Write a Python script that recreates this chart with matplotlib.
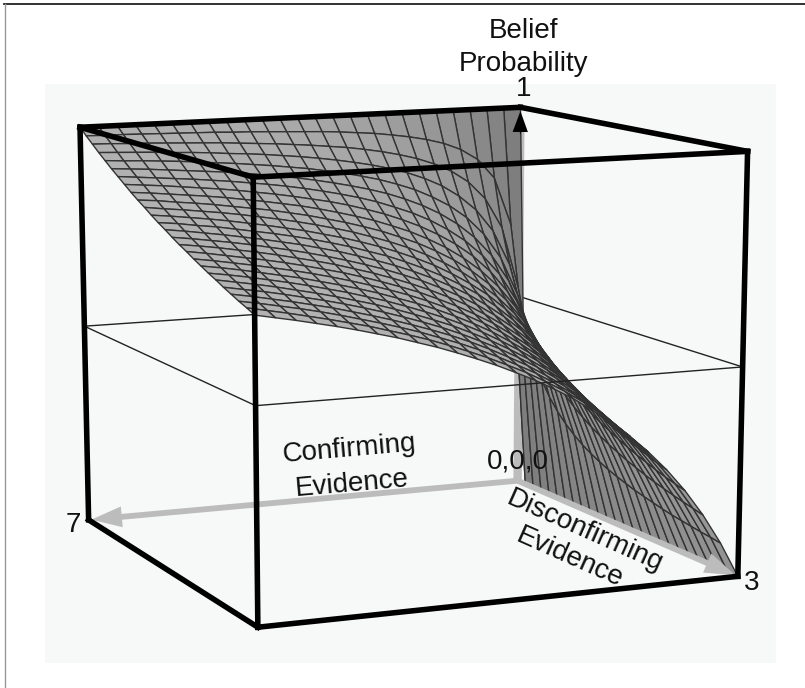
import numpy as np
import matplotlib
matplotlib.use("Agg")
import matplotlib.pyplot as plt
from matplotlib.collections import PolyCollection
from matplotlib.patches import FancyArrowPatch, Rectangle

plt.rcParams["font.family"] = ["Liberation Sans", "DejaVu Sans"]

# evidence grid, 25 steps on each axis
confirming = [0, 0.28, 0.56, 0.84, 1.12, 1.4, 1.68, 1.96, 2.24, 2.52, 2.8, 3.08, 3.36,
              3.64, 3.92, 4.2, 4.48, 4.76, 5.04, 5.32, 5.6, 5.88, 6.16, 6.44, 6.72, 7]
disconfirming = [0, 0.12, 0.24, 0.36, 0.48, 0.6, 0.72, 0.84, 0.96, 1.08, 1.2, 1.32, 1.44,
                 1.56, 1.68, 1.8, 1.92, 2.04, 2.16, 2.28, 2.4, 2.52, 2.64, 2.76, 2.88, 3]

# belief probability, one row per disconfirming step
belief = [
    [1, 1, 1, 1, 1, 1, 1, 1, 1, 1, 1, 1, 1, 1, 1, 1, 1, 1, 1, 1, 1, 1, 1, 1, 1, 1],
    [0, .700, .824, .875, .903, .921, .933, .942, .949, .955, .959, .963, .966, .968, .970, .972, .974, .975, .977, .978, .979, .980, .981, .982, .982, .983],
    [0, .538, .700, .778, .824, .854, .875, .891, .903, .913, .921, .928, .933, .938, .942, .946, .949, .952, .955, .957, .959, .961, .963, .964, .966, .967],
    [0, .438, .609, .700, .757, .795, .824, .845, .862, .875, .886, .895, .903, .910, .916, .921, .926, .930, .933, .937, .940, .942, .945, .947, .949, .951],
    [0, .368, .538, .636, .700, .745, .778, .803, .824, .840, .854, .865, .875, .883, .891, .897, .903, .908, .913, .917, .921, .925, .928, .931, .933, .936],
    [0, .318, .483, .583, .651, .700, .737, .766, .789, .808, .824, .837, .848, .858, .867, .875, .882, .888, .894, .899, .903, .907, .911, .915, .918, .921],
    [0, .280, .438, .538, .609, .660, .700, .731, .757, .778, .795, .811, .824, .835, .845, .854, .862, .869, .875, .881, .886, .891, .895, .899, .903, .907],
    [0, .250, .400, .500, .571, .625, .667, .700, .727, .750, .769, .786, .800, .813, .824, .833, .842, .850, .857, .864, .870, .875, .880, .885, .889, .893],
    [0, .226, .368, .467, .538, .593, .636, .671, .700, .724, .745, .762, .778, .791, .803, .814, .824, .832, .840, .847, .854, .860, .865, .870, .875, .879],
    [0, .206, .341, .438, .509, .565, .609, .645, .675, .700, .722, .740, .757, .771, .784, .795, .806, .815, .824, .831, .838, .845, .851, .856, .862, .866],
    [0, .189, .318, .412, .483, .538, .583, .620, .651, .677, .700, .720, .737, .752, .766, .778, .789, .799, .808, .816, .824, .831, .837, .843, .848, .854],
    [0, .175, .298, .389, .459, .515, .560, .598, .629, .656, .680, .700, .718, .734, .748, .761, .772, .783, .792, .801, .809, .817, .824, .830, .836, .841],
    [0, .163, .280, .368, .438, .493, .538, .576, .609, .636, .660, .681, .700, .717, .731, .745, .757, .768, .778, .787, .795, .803, .811, .817, .824, .829],
    [0, .152, .264, .350, .418, .473, .519, .557, .589, .618, .642, .664, .683, .700, .715, .729, .742, .753, .764, .773, .782, .790, .798, .805, .812, .818],
    [0, .143, .250, .333, .400, .455, .500, .538, .571, .600, .625, .647, .667, .684, .700, .714, .727, .739, .750, .760, .769, .778, .786, .793, .800, .806],
    [0, .135, .237, .318, .384, .438, .483, .521, .554, .583, .609, .631, .651, .669, .685, .700, .713, .726, .737, .747, .757, .766, .774, .782, .789, .795],
    [0, .127, .226, .304, .368, .422, .467, .505, .538, .568, .593, .616, .636, .655, .671, .686, .700, .713, .724, .735, .745, .754, .762, .770, .778, .785],
    [0, .121, .215, .292, .354, .407, .452, .490, .523, .553, .579, .602, .622, .641, .658, .673, .687, .700, .712, .723, .733, .742, .751, .759, .767, .774],
    [0, .115, .206, .280, .341, .393, .438, .476, .509, .538, .565, .588, .609, .628, .645, .660, .675, .688, .700, .711, .722, .731, .740, .749, .757, .764],
    [0, .109, .197, .269, .329, .380, .424, .462, .496, .525, .551, .575, .596, .615, .632, .648, .663, .676, .689, .700, .711, .721, .730, .739, .747, .754],
    [0, .104, .189, .259, .318, .368, .412, .450, .483, .512, .538, .562, .583, .603, .620, .636, .651, .665, .677, .689, .700, .710, .720, .729, .737, .745],
    [0, .100, .182, .250, .308, .357, .400, .438, .471, .500, .526, .550, .571, .591, .609, .625, .640, .654, .667, .679, .690, .700, .710, .719, .727, .735],
    [0, .096, .175, .241, .298, .347, .389, .426, .459, .488, .515, .538, .560, .580, .598, .614, .629, .643, .656, .668, .680, .690, .700, .709, .718, .726],
    [0, .092, .169, .233, .289, .337, .378, .415, .448, .477, .504, .527, .549, .569, .587, .603, .619, .633, .646, .658, .670, .681, .691, .700, .709, .717],
    [0, .089, .163, .226, .280, .327, .368, .405, .438, .467, .493, .517, .538, .558, .576, .593, .609, .623, .636, .649, .660, .671, .681, .691, .700, .709],
    [0, .085, .157, .219, .272, .318, .359, .395, .427, .457, .483, .507, .528, .548, .566, .583, .599, .613, .627, .639, .651, .662, .672, .682, .691, .700],
]

c_max = 7
d_max = 3
mid_level = 0.5

# where the box sits in the picture, (c, d, p) -> (px, py), used to fit the camera
camera_points = [
    (0, 0, 0, 517, 480), (7, 0, 0, 88, 520), (0, 3, 0, 737, 578), (7, 3, 0, 260, 628),
    (0, 0, 1, 521, 108), (7, 0, 1, 80, 127), (0, 3, 1, 748, 151), (7, 3, 1, 252, 179),
    (0, 0, 0.5, 521, 297), (7, 0, 0.5, 85, 326), (0, 3, 0.5, 742, 361), (7, 3, 0.5, 254, 396),
]


def fit_camera(points):
    rows = []
    for c, d, p, u, v in points:
        # the thick box corners count more than the thin plane
        w = 0.5 if p == mid_level else 1.0
        X = [c / c_max, d / d_max, p, 1]
        rows.append([w * x for x in X] + [0, 0, 0, 0] + [-w * u * x for x in X])
        rows.append([0, 0, 0, 0] + [w * x for x in X] + [-w * v * x for x in X])
    return np.linalg.svd(np.array(rows, dtype=float))[2][-1].reshape(3, 4)


cam = fit_camera(camera_points)


def project(c, d, p):
    h = cam @ np.array([c / c_max, d / d_max, p, 1.0])
    return h[0] / h[2], h[1] / h[2]


def edge(a, b, **kw):
    xa, ya = project(*a)
    xb, yb = project(*b)
    ax.plot([xa, xb], [ya, yb], **kw)


fig = plt.figure(figsize=(8.05, 6.88), dpi=100)
ax = fig.add_axes([0, 0, 1, 1])
ax.set_xlim(0, 805)
ax.set_ylim(688, 0)
ax.axis("off")

ax.add_patch(Rectangle((45, 84), 731, 579, fc="#f7f9f8", ec="none", zorder=0))
ax.plot([4, 805], [4, 4], color="#222222", lw=1.3, zorder=1)
ax.plot([4.5, 4.5], [4, 688], color="#999999", lw=1, zorder=1)

# plane at p = 0.5, back part goes behind the surface
thin = dict(color="#222222", lw=1.0, solid_capstyle="butt")
edge((c_max, 0, mid_level), (0, 0, mid_level), zorder=1, **thin)
edge((0, 0, mid_level), (0, d_max, mid_level), zorder=1, **thin)
edge((c_max, 0, mid_level), (c_max, d_max, mid_level), zorder=1, **thin)
edge((c_max, d_max, mid_level), (0, d_max, mid_level), zorder=3, **thin)

# grey p axis
edge((0, 0, 0), (0, 0, 0.95), color="#bcbcbc", lw=6, solid_capstyle="butt", zorder=1)

# surface, back cells first
polys = []
shades = []
for i in range(len(confirming) - 1):
    for j in range(len(disconfirming) - 1):
        corners = [(i, j), (i + 1, j), (i + 1, j + 1), (i, j + 1)]
        pts = [(confirming[a], disconfirming[b], belief[b][a]) for a, b in corners]
        polys.append([project(*q) for q in pts])
        u = np.array(pts[2]) - np.array(pts[0])
        v = np.array(pts[3]) - np.array(pts[1])
        u = u / [c_max, d_max, 1]
        v = v / [c_max, d_max, 1]
        n = np.cross(u, v)
        nz = abs(n[2]) / np.linalg.norm(n)
        g = 0.48 + 0.23 * nz
        shades.append((g, g, g))
ax.add_collection(PolyCollection(polys, facecolors=shades, edgecolors="#333333",
                                 linewidths=1.0, zorder=2))

# grey floor arrows
for end in [(c_max, 0, 0), (0, d_max, 0)]:
    ax.add_patch(FancyArrowPatch(project(0, 0, 0), project(*end), shrinkA=0, shrinkB=2,
                                 arrowstyle="simple,head_length=22,head_width=15,tail_width=4.2",
                                 mutation_scale=1, color="#bcbcbc", lw=0, zorder=3))

# black tip of the p axis
ax.add_patch(FancyArrowPatch(project(0, 0, 0.93), project(0, 0, 0.99), shrinkA=0, shrinkB=0,
                             arrowstyle="simple,head_length=15,head_width=11,tail_width=0.5",
                             mutation_scale=1, color="black", lw=0, zorder=3))

# box, the two back floor edges are the grey arrows
thick = dict(color="black", lw=4.0, solid_capstyle="projecting", zorder=4)
top = [(0, 0, 1), (c_max, 0, 1), (c_max, d_max, 1), (0, d_max, 1), (0, 0, 1)]
for a, b in zip(top[:-1], top[1:]):
    edge(a, b, **thick)
edge((c_max, 0, 0), (c_max, 0, 1), **thick)
edge((c_max, d_max, 0), (c_max, d_max, 1), **thick)
edge((0, d_max, 0), (0, d_max, 1), **thick)
edge((c_max, 0, 0), (c_max, d_max, 0), **thick)
edge((c_max, d_max, 0), (0, d_max, 0), **thick)

txt = dict(fontsize=20, color="#111111", ha="center", va="center", zorder=5)
ax.text(523, 31, "Belief", **txt)
ax.text(523, 64, "Probability", **txt)
ax.text(524, 89, "1", **txt)
ax.text(518, 461, "0,0,0", **txt)
ax.text(73, 525, "7", **txt)
ax.text(752, 583, "3", **txt)
ax.text(349, 449, "Confirming", rotation=5, **txt)
ax.text(352, 484, "Evidence", rotation=5, **txt)
ax.text(585, 531, "Disconfirming", rotation=-24, **txt)
ax.text(570, 558, "Evidence", rotation=-24, **txt)

fig.savefig("out.png", dpi=100)
